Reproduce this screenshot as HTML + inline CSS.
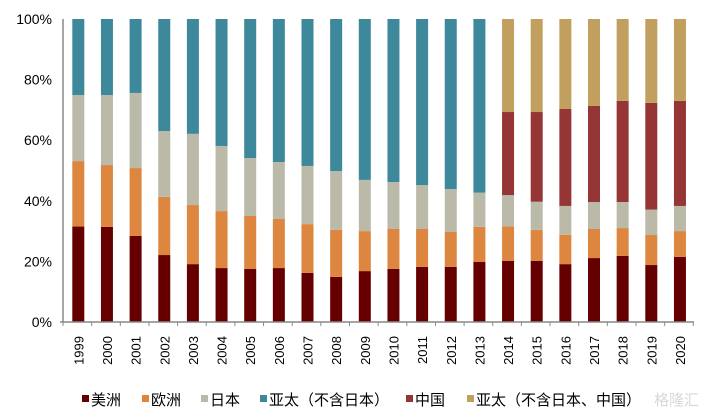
<!DOCTYPE html>
<html><head><meta charset="utf-8"><style>
body{margin:0;background:#fff;}
svg text{font-family:"Liberation Sans","Noto Sans CJK SC",sans-serif;fill:#000;}
</style></head><body>
<svg id="chart" width="706" height="412" xmlns="http://www.w3.org/2000/svg"></svg>
<script>
const years=['1999','2000','2001','2002','2003','2004','2005','2006','2007','2008','2009','2010','2011','2012','2013','2014','2015','2016','2017','2018','2019','2020'];
const americas=[31.5,31.4,28.4,22.1,19.1,17.8,17.5,17.8,16.2,14.9,16.8,17.5,18.2,18.2,19.8,20.2,20.2,19.1,21.1,21.8,18.8,21.5];
const europe=[21.6,20.4,22.4,19.2,19.5,18.8,17.5,16.2,16.1,15.5,13.2,13.2,12.5,11.5,11.6,11.3,10.2,9.7,9.6,9.2,9.9,8.5];
const japan=[21.8,23.1,24.8,21.7,23.5,21.5,19.1,18.8,19.2,19.4,16.9,15.5,14.5,14.2,11.3,10.4,9.3,9.5,8.9,8.6,8.4,8.3];
const apxj=[25.1,25.1,24.4,37.0,37.9,41.9,45.9,47.2,48.5,50.2,53.1,53.8,54.8,56.1,57.3,0,0,0,0,0,0,0];
const china=[0,0,0,0,0,0,0,0,0,0,0,0,0,0,0,27.4,29.6,32.0,31.7,33.4,35.2,34.7];
const apxjc=[0,0,0,0,0,0,0,0,0,0,0,0,0,0,0,30.7,30.7,29.7,28.7,27.0,27.7,27.0];
const yTicks=[0,20,40,60,80,100];
const seriesNames=['美洲','欧洲','日本','亚太（不含日本）','中国','亚太（不含日本、中国）'];
const colors=['#660000','#DD863F','#BBB9A8','#3D889B','#963535','#C19F5E'];
const series=[americas,europe,japan,apxj,china,apxjc];
const svg=document.getElementById('chart');
const NS='http://www.w3.org/2000/svg';
const x0=63,x1=694,yB=322,yT=19,step=28.65,bw=12;
function yS(v){return yB-(yB-yT)*v/100;}
function xS(i){return 78.3+i*step;}
function mk(t,a){const e=document.createElementNS(NS,t);for(const k in a)e.setAttribute(k,a[k]);svg.appendChild(e);return e;}
yTicks.forEach(v=>{const t=mk('text',{x:52,y:yS(v)+5,'text-anchor':'end','font-size':14});t.textContent=v+'%';

});
years.forEach((y,i)=>{
  let acc=0;
  series.forEach((s,k)=>{
    const v=s[i];if(v<=0)return;
    const r=mk('rect',{x:xS(i)-bw/2,y:yS(acc+v),width:bw,height:yS(acc)-yS(acc+v),fill:colors[k]});
    
    
    acc+=v;
  });
  const t=mk('text',{x:0,y:0,'text-anchor':'end','font-size':13,transform:`translate(${xS(i)+5},336) rotate(-90)`});
  t.textContent=y;
  
  
});
const ax=mk('line',{x1:x0,y1:yT,x2:x0,y2:yB,stroke:'#888','stroke-width':1.5});


const bx=mk('line',{x1:x0-3,y1:yB,x2:x1,y2:yB,stroke:'#888','stroke-width':1.5});


for(let i=0;i<=22;i++){const tk=mk('line',{x1:x0+i*step,y1:yB,x2:x0+i*step,y2:yB+4,stroke:'#888','stroke-width':1});

}
const lx=[82,142,201,260,406,467];
seriesNames.forEach((n,k)=>{
  const r=mk('rect',{x:lx[k],y:395,width:7,height:7,fill:colors[k]});
  
  
  const t=mk('text',{x:lx[k]+9,y:405,'font-size':15});t.textContent=n;
  
  
});
const wm=mk('text',{x:654,y:405,'font-size':15});
wm.textContent='格隆汇';
wm.setAttribute('style','fill:#d8d8d8');


</script>
</body></html>
